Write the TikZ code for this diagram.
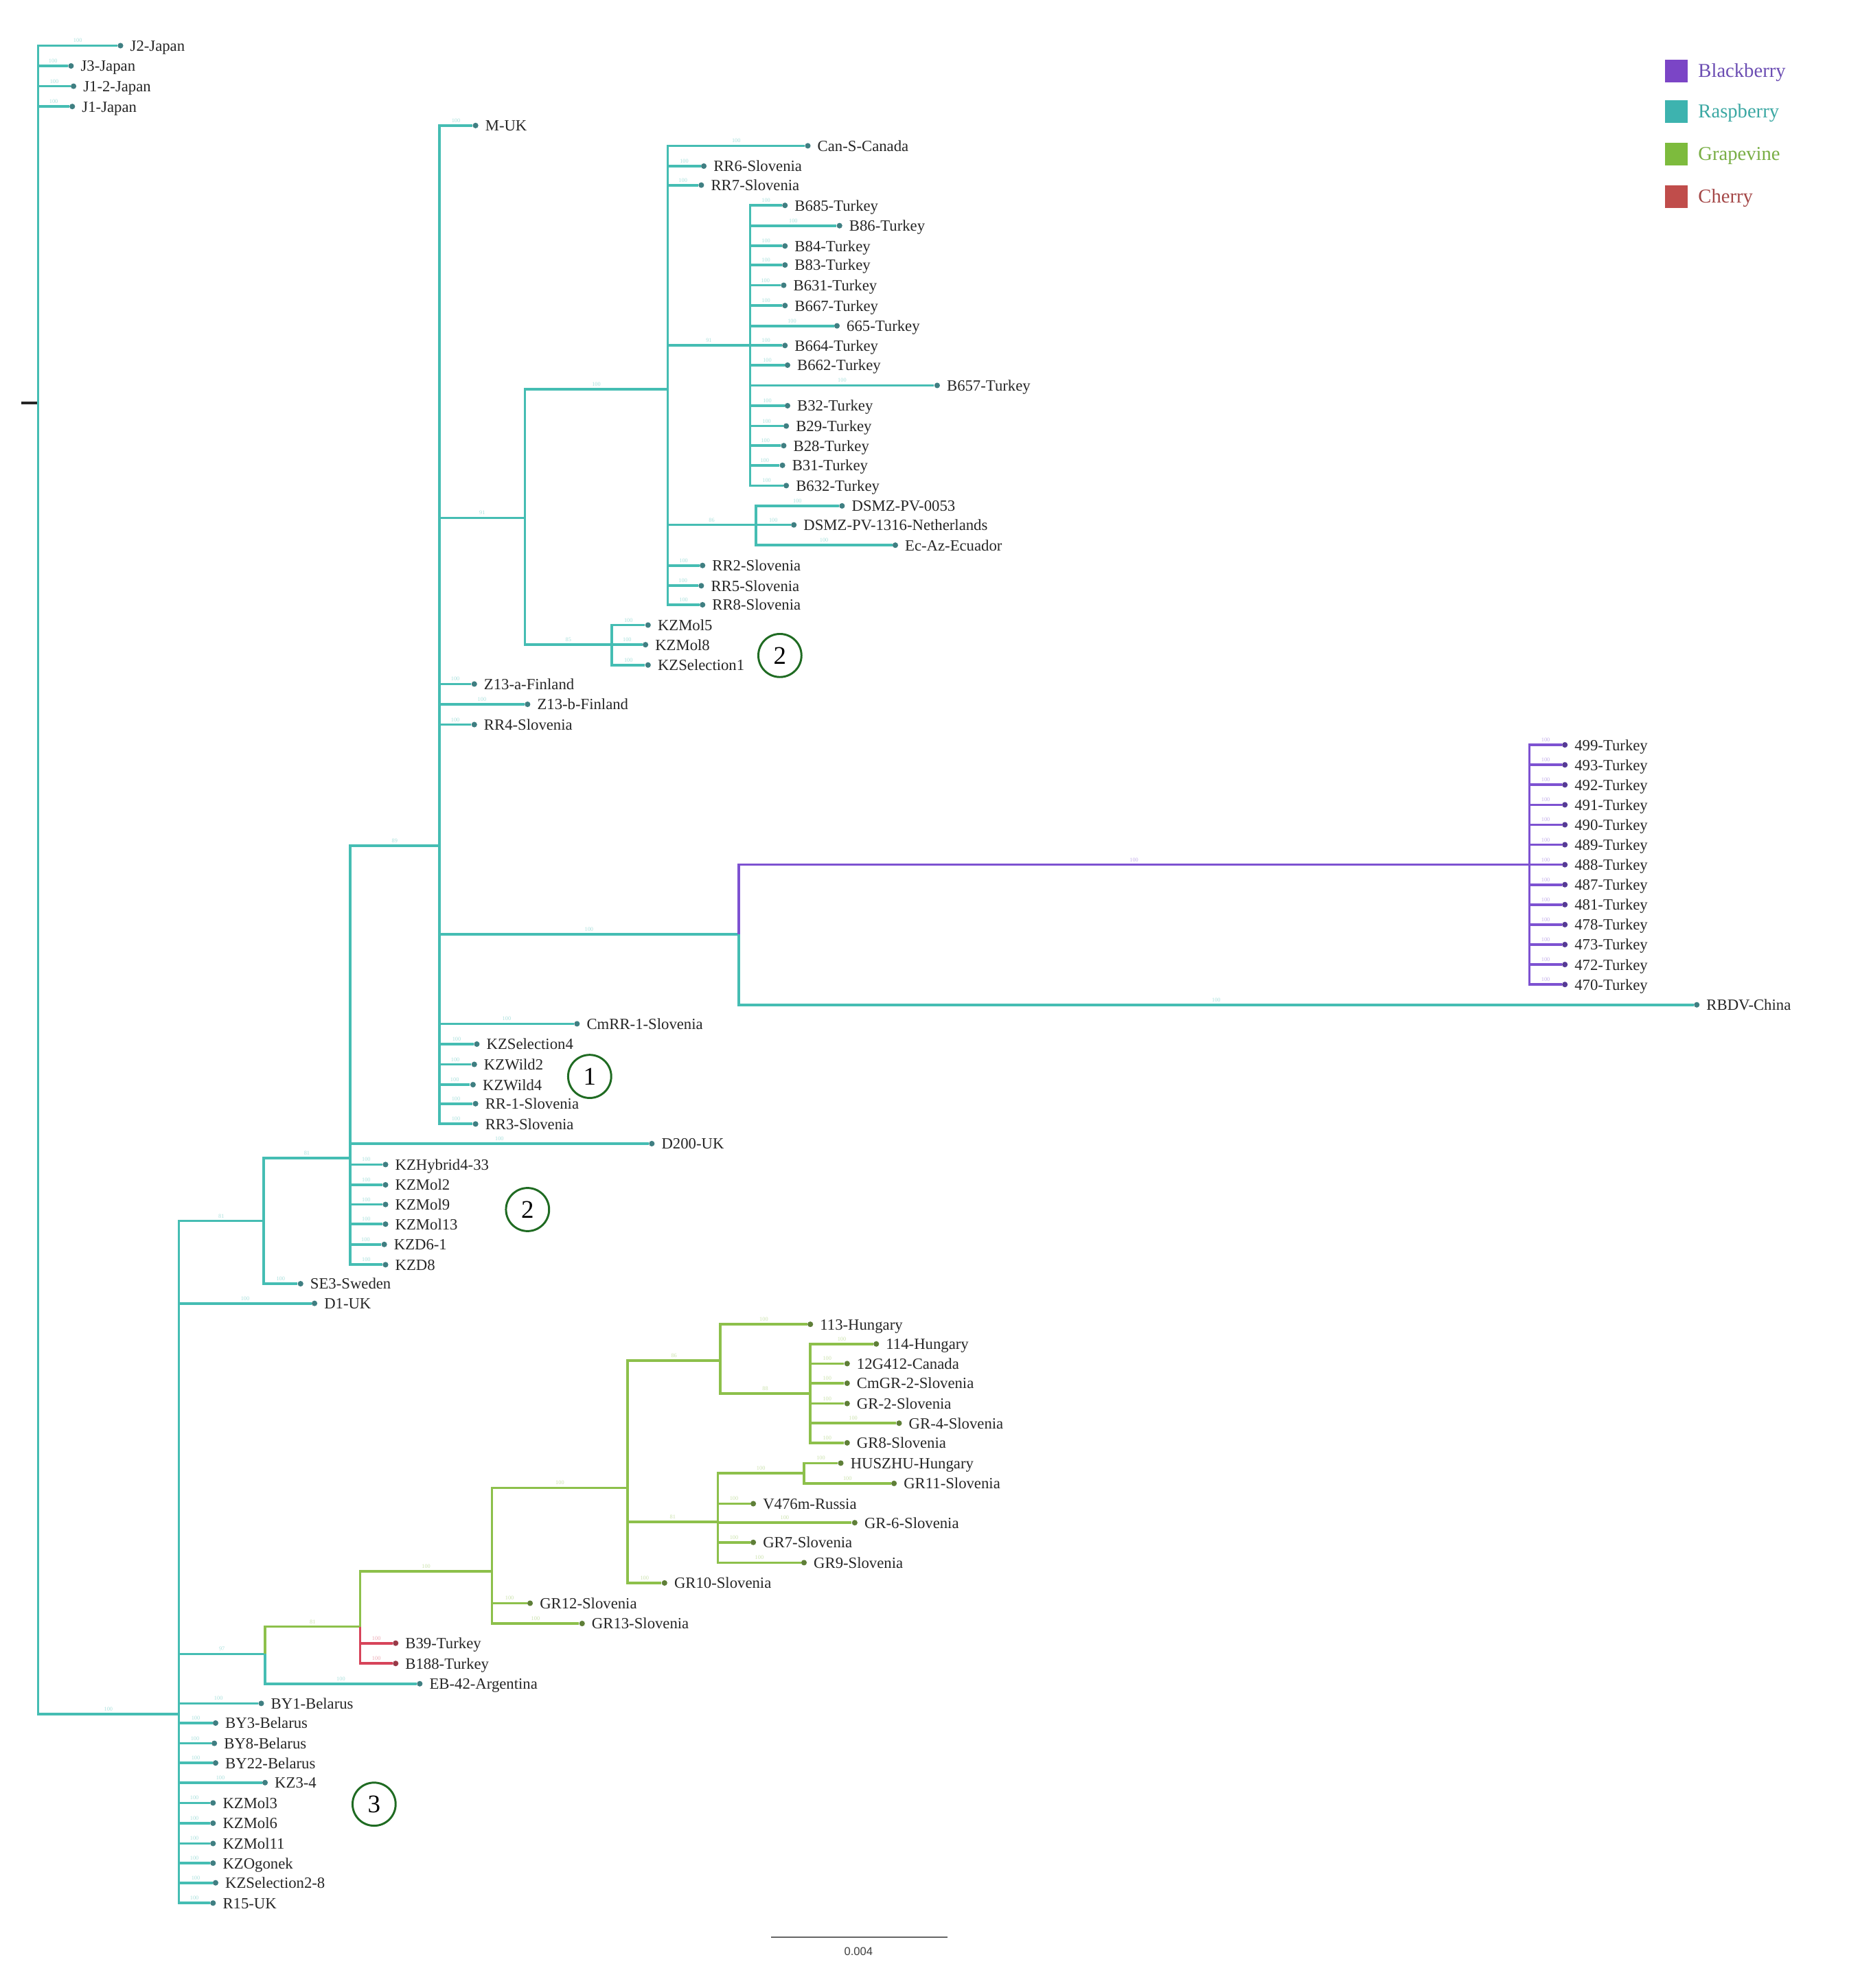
\documentclass[tikz,border=0pt]{standalone}
\usepackage{fontspec}
\setmainfont{Liberation Serif}
\newfontfamily\sbfont{Liberation Sans}
\definecolor{rasp}{HTML}{45BDB3}
\definecolor{raspdot}{HTML}{3F7F82}
\definecolor{bbr}{HTML}{7D52D1}
\definecolor{bbrdot}{HTML}{563A96}
\definecolor{grape}{HTML}{8DC04B}
\definecolor{grapedot}{HTML}{5F7F38}
\definecolor{cher}{HTML}{D7445A}
\definecolor{cherdot}{HTML}{9A3A48}
\definecolor{annot}{HTML}{1F6B22}
\definecolor{legB}{HTML}{7B45C6}
\definecolor{legR}{HTML}{3DB3AF}
\definecolor{legG}{HTML}{7DBB3D}
\definecolor{legC}{HTML}{C04D4B}
\definecolor{legBt}{HTML}{6C4EB3}
\definecolor{legRt}{HTML}{3BA8A3}
\definecolor{legGt}{HTML}{79AE45}
\definecolor{legCt}{HTML}{A44747}
\newcommand\lf[5]{\node[dot=#5] (#1) at (#2,#3) {};\node[lbl] (#1t) at ([xshift=7.5pt]#1.center) {#4};}
\newcommand\br[4]{\draw[branch, draw=#1] (#2) |- node[sup, text=#1!45] {#4} (#3);}
\begin{document}
\begin{tikzpicture}[x=1pt,y=-1pt,
  branch/.style={line width=2pt},
  dot/.style={circle, inner sep=0pt, minimum size=4.4pt, fill=#1},
  lbl/.style={anchor=base west, inner sep=0pt, yshift=-4.3pt, font=\fontsize{12.3}{14}\selectfont, text=black!85},
  sup/.style={pos=0.75, anchor=south, inner sep=1.4pt, font=\fontsize{4.5}{5}\selectfont},
  ann/.style={circle, draw=annot, line width=1.6pt, minimum size=34pt, inner sep=0pt, font=\fontsize{20}{22}\selectfont},
  legsq/.style={minimum size=18pt, inner sep=0pt, fill=#1},
  legtx/.style={anchor=base west, inner sep=0pt, yshift=-5pt, font=\fontsize{15.5}{17}\selectfont, text=#1}]
\useasboundingbox[fill=white] (0,0) rectangle (1475,1568);

% internal nodes
\coordinate (root) at (30,318);
\coordinate (rt) at (17,318);
\coordinate (Nr) at (141,1352);
\coordinate (A) at (208,963);
\coordinate (B) at (276,913.5);
\coordinate (C) at (346.5,667);
\coordinate (D) at (414,408.5);
\coordinate (F) at (526.5,307);
\coordinate (H) at (591.5,272.5);
\coordinate (I) at (596,414);
\coordinate (G) at (482.5,508.5);
\coordinate (E) at (582.5,737);
\coordinate (Jb) at (1206,682);
\coordinate (K) at (209,1304.5);
\coordinate (L) at (284,1283);
\coordinate (M) at (388,1239.5);
\coordinate (Nn) at (495,1173.5);
\coordinate (O) at (568,1073);
\coordinate (Q) at (639,1099);
\coordinate (P) at (566,1200.5);
\coordinate (R) at (634,1162);

% leaves
\lf{Jtwo}{95}{36}{J2-Japan}{raspdot}
\lf{Jthree}{56}{52}{J3-Japan}{raspdot}
\lf{Jonetwo}{58}{68}{J1-2-Japan}{raspdot}
\lf{Jone}{57}{84}{J1-Japan}{raspdot}
\lf{MUK}{375}{99}{M-UK}{raspdot}
\lf{CanS}{637}{115}{Can-S-Canada}{raspdot}
\lf{RRsix}{555}{131}{RR6-Slovenia}{raspdot}
\lf{RRseven}{553}{146}{RR7-Slovenia}{raspdot}
\lf{Ta}{619}{162}{B685-Turkey}{raspdot}
\lf{Tb}{662}{178}{B86-Turkey}{raspdot}
\lf{Tc}{619}{194}{B84-Turkey}{raspdot}
\lf{Td}{619}{209}{B83-Turkey}{raspdot}
\lf{Te}{618}{225}{B631-Turkey}{raspdot}
\lf{Tf}{619}{241}{B667-Turkey}{raspdot}
\lf{Tg}{660}{257}{665-Turkey}{raspdot}
\lf{Th}{619}{272.5}{B664-Turkey}{raspdot}
\lf{Ti}{621}{288}{B662-Turkey}{raspdot}
\lf{Tj}{739}{304}{B657-Turkey}{raspdot}
\lf{Tk}{621}{320}{B32-Turkey}{raspdot}
\lf{Tl}{620}{336}{B29-Turkey}{raspdot}
\lf{Tm}{618}{351.5}{B28-Turkey}{raspdot}
\lf{Tn}{617}{367}{B31-Turkey}{raspdot}
\lf{To}{620}{383}{B632-Turkey}{raspdot}
\lf{Da}{664}{399}{DSMZ-PV-0053}{raspdot}
\lf{Db}{626}{414}{DSMZ-PV-1316-Netherlands}{raspdot}
\lf{Dc}{706}{430}{Ec-Az-Ecuador}{raspdot}
\lf{RRtwo}{554}{446}{RR2-Slovenia}{raspdot}
\lf{RRfive}{553}{462}{RR5-Slovenia}{raspdot}
\lf{RReight}{554}{477}{RR8-Slovenia}{raspdot}
\lf{KMfive}{511}{493}{KZMol5}{raspdot}
\lf{KMeight}{509}{508.5}{KZMol8}{raspdot}
\lf{KSone}{511}{524.5}{KZSelection1}{raspdot}
\lf{Zza}{374}{539.5}{Z13-a-Finland}{raspdot}
\lf{Zzb}{416}{555.5}{Z13-b-Finland}{raspdot}
\lf{RRfour}{374}{571.5}{RR4-Slovenia}{raspdot}
\lf{Ka}{1234}{587.5}{499-Turkey}{bbrdot}
\lf{Kb}{1234}{603.25}{493-Turkey}{bbrdot}
\lf{Kc}{1234}{619}{492-Turkey}{bbrdot}
\lf{Kd}{1234}{634.75}{491-Turkey}{bbrdot}
\lf{Ke}{1234}{650.5}{490-Turkey}{bbrdot}
\lf{Kf}{1234}{666.25}{489-Turkey}{bbrdot}
\lf{Kg}{1234}{682}{488-Turkey}{bbrdot}
\lf{Kh}{1234}{697.75}{487-Turkey}{bbrdot}
\lf{Ki}{1234}{713.5}{481-Turkey}{bbrdot}
\lf{Kj}{1234}{729.25}{478-Turkey}{bbrdot}
\lf{Kk}{1234}{745}{473-Turkey}{bbrdot}
\lf{Kl}{1234}{760.75}{472-Turkey}{bbrdot}
\lf{Km}{1234}{776.5}{470-Turkey}{bbrdot}
\lf{RBDV}{1338}{792.5}{RBDV-China}{raspdot}
\lf{CmRR}{455}{807.5}{CmRR-1-Slovenia}{raspdot}
\lf{KSfour}{376}{823.5}{KZSelection4}{raspdot}
\lf{KWtwo}{374}{839.5}{KZWild2}{raspdot}
\lf{KWfour}{373}{855.5}{KZWild4}{raspdot}
\lf{RRone}{375}{870.5}{RR-1-Slovenia}{raspdot}
\lf{RRthree}{375}{886.5}{RR3-Slovenia}{raspdot}
\lf{Dtwo}{514}{902}{D200-UK}{raspdot}
\lf{KHyb}{304}{918.5}{KZHybrid4-33}{raspdot}
\lf{KMtwo}{304}{934.5}{KZMol2}{raspdot}
\lf{KMnine}{304}{950}{KZMol9}{raspdot}
\lf{KMthirteen}{304}{965.5}{KZMol13}{raspdot}
\lf{KDsix}{303}{981.5}{KZD6-1}{raspdot}
\lf{KDeight}{304}{997.5}{KZD8}{raspdot}
\lf{SEthree}{237}{1012.5}{SE3-Sweden}{raspdot}
\lf{Done}{248}{1028}{D1-UK}{raspdot}
\lf{Ha}{639}{1044.5}{113-Hungary}{grapedot}
\lf{Hb}{691}{1060}{114-Hungary}{grapedot}
\lf{Ca}{668}{1075.5}{12G412-Canada}{grapedot}
\lf{Cm}{668}{1091}{CmGR-2-Slovenia}{grapedot}
\lf{Ga}{668}{1107}{GR-2-Slovenia}{grapedot}
\lf{Gb}{709}{1122.5}{GR-4-Slovenia}{grapedot}
\lf{Gc}{668}{1138}{GR8-Slovenia}{grapedot}
\lf{Hc}{663}{1154}{HUSZHU-Hungary}{grapedot}
\lf{Gd}{705}{1170}{GR11-Slovenia}{grapedot}
\lf{Va}{594}{1186}{V476m-Russia}{grapedot}
\lf{Ge}{674}{1201}{GR-6-Slovenia}{grapedot}
\lf{Gf}{594}{1216.5}{GR7-Slovenia}{grapedot}
\lf{Gg}{634}{1232.5}{GR9-Slovenia}{grapedot}
\lf{Gh}{524}{1248.5}{GR10-Slovenia}{grapedot}
\lf{Gi}{418}{1264.5}{GR12-Slovenia}{grapedot}
\lf{Gj}{459}{1280.5}{GR13-Slovenia}{grapedot}
\lf{Ba}{312}{1296}{B39-Turkey}{cherdot}
\lf{Bb}{312}{1312}{B188-Turkey}{cherdot}
\lf{EB}{331}{1328}{EB-42-Argentina}{raspdot}
\lf{BYa}{206}{1343.5}{BY1-Belarus}{raspdot}
\lf{BYb}{170}{1359}{BY3-Belarus}{raspdot}
\lf{BYc}{169}{1375}{BY8-Belarus}{raspdot}
\lf{BYd}{170}{1390.5}{BY22-Belarus}{raspdot}
\lf{KZtf}{209}{1406}{KZ3-4}{raspdot}
\lf{KMthree}{168}{1422}{KZMol3}{raspdot}
\lf{KMsix}{168}{1438}{KZMol6}{raspdot}
\lf{KMeleven}{168}{1454}{KZMol11}{raspdot}
\lf{KOg}{168}{1469.5}{KZOgonek}{raspdot}
\lf{KStwo}{170}{1485}{KZSelection2-8}{raspdot}
\lf{Rfif}{168}{1501}{R15-UK}{raspdot}

% branches
\draw[branch, black!85] (rt) -- (root);
\br{rasp}{root}{Jtwo}{100}
\br{rasp}{root}{Jthree}{100}
\br{rasp}{root}{Jonetwo}{100}
\br{rasp}{root}{Jone}{100}
\br{rasp}{root}{Nr}{100}

\br{rasp}{Nr}{A}{81}
\br{rasp}{Nr}{Done}{100}
\br{rasp}{Nr}{K}{97}
\foreach \n in {BYa,BYb,BYc,BYd,KZtf,KMthree,KMsix,KMeleven,KOg,KStwo,Rfif}{\br{rasp}{Nr}{\n}{100}}

\br{rasp}{A}{B}{81}
\br{rasp}{A}{SEthree}{100}
\br{rasp}{B}{C}{89}
\foreach \n in {Dtwo,KHyb,KMtwo,KMnine,KMthirteen,KDsix,KDeight}{\br{rasp}{B}{\n}{100}}

\br{rasp}{C}{MUK}{100}
\br{rasp}{C}{D}{91}
\br{rasp}{C}{E}{100}
\foreach \n in {Zza,Zzb,RRfour,CmRR,KSfour,KWtwo,KWfour,RRone,RRthree}{\br{rasp}{C}{\n}{100}}

\br{rasp}{D}{F}{100}
\br{rasp}{D}{G}{85}
\foreach \n in {KMfive,KMeight,KSone}{\br{rasp}{G}{\n}{100}}

\foreach \n in {CanS,RRsix,RRseven,RRtwo,RRfive,RReight}{\br{rasp}{F}{\n}{100}}
\br{rasp}{F}{H}{91}
\br{rasp}{F}{I}{86}
\foreach \n in {Ta,Tb,Tc,Td,Te,Tf,Tg,Th,Ti,Tj,Tk,Tl,Tm,Tn,To}{\br{rasp}{H}{\n}{100}}
\foreach \n in {Da,Db,Dc}{\br{rasp}{I}{\n}{100}}

\br{bbr}{E}{Jb}{100}
\br{rasp}{E}{RBDV}{100}
\foreach \n in {Ka,Kb,Kc,Kd,Ke,Kf,Kg,Kh,Ki,Kj,Kk,Kl,Km}{\br{bbr}{Jb}{\n}{100}}

\br{grape}{K}{L}{81}
\br{rasp}{K}{EB}{100}
\br{grape}{L}{M}{100}
\br{cher}{L}{Ba}{100}
\br{cher}{L}{Bb}{100}
\br{grape}{M}{Nn}{100}
\br{grape}{M}{Gi}{100}
\br{grape}{M}{Gj}{100}
\br{grape}{Nn}{O}{86}
\br{grape}{Nn}{P}{81}
\br{grape}{Nn}{Gh}{100}
\br{grape}{O}{Ha}{100}
\br{grape}{O}{Q}{88}
\foreach \n in {Hb,Ca,Cm,Ga,Gb,Gc}{\br{grape}{Q}{\n}{100}}
\br{grape}{P}{R}{100}
\foreach \n in {Va,Ge,Gf,Gg}{\br{grape}{P}{\n}{100}}
\foreach \n in {Hc,Gd}{\br{grape}{R}{\n}{100}}

% cluster annotations
\node[ann] (cOne) at (465,849) {1};
\node[ann] (cTwoa) at (615,517) {2};
\node[ann] (cTwob) at (416,954) {2};
\node[ann] (cThree) at (295,1423) {3};

% legend
\node[legsq=legB] (lgB) at (1322,56) {};
\node[legtx=legBt] (lgBt) at (1339,56) {Blackberry};
\node[legsq=legR] (lgR) at (1322,88) {};
\node[legtx=legRt] (lgRt) at (1339,88) {Raspberry};
\node[legsq=legG] (lgG) at (1322,121.5) {};
\node[legtx=legGt] (lgGt) at (1339,121.5) {Grapevine};
\node[legsq=legC] (lgC) at (1322,155) {};
\node[legtx=legCt] (lgCt) at (1339,155) {Cherry};

% scale bar
\coordinate (sba) at (608,1528);
\coordinate (sbb) at (747,1528);
\draw[line width=1.4pt, black!60] (sba) -- (sbb);
\node[font=\sbfont\fontsize{9}{10}\selectfont, text=black!75, inner sep=0pt] (sbt) at (677,1539) {0.004};
\end{tikzpicture}
\end{document}
